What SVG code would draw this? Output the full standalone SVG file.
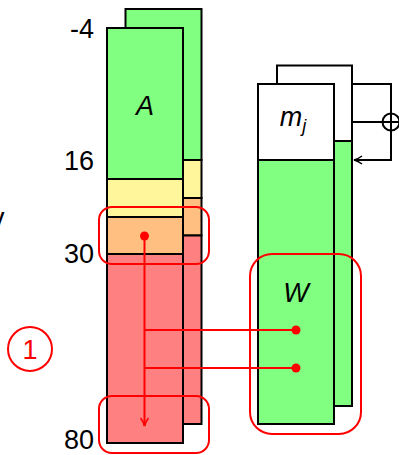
<svg xmlns="http://www.w3.org/2000/svg" width="399" height="455" viewBox="0 0 399 455">
<style>
.blk{stroke:#000;stroke-width:2}
.g{fill:#80FF80}.y{fill:#FFF59A}.o{fill:#FFBF80}.r{fill:#FF8080}.w{fill:#fff}
.num{font-family:"Liberation Sans",Arial,sans-serif;font-size:27px;fill:#000;text-anchor:end}
.it{font-family:"Liberation Sans",Arial,sans-serif;font-style:italic;font-size:27px;fill:#000;text-anchor:middle}
.red{fill:none;stroke:#FF0000;stroke-width:2}
.dot{fill:#FF0000}
</style>
<defs>
<marker id="ar" viewBox="0 0 10 10" refX="9" refY="5" markerWidth="10" markerHeight="10" markerUnits="userSpaceOnUse" orient="auto">
<path d="M1,1 Q5,4 9,5 Q5,6 1,9" fill="none" stroke="#FF0000" stroke-width="1.6"/>
</marker>
<marker id="ak" viewBox="0 0 10 10" refX="9" refY="5" markerWidth="10" markerHeight="10" markerUnits="userSpaceOnUse" orient="auto">
<path d="M1,1 Q5,4 9,5 Q5,6 1,9" fill="none" stroke="#000" stroke-width="1.4"/>
</marker>
</defs>

<g id="label-v"><text x="-9" y="227" class="num" style="text-anchor:start">v</text></g>

<g id="axis-labels">
<text x="94" y="38" class="num">-4</text>
<text x="94" y="170" class="num">16</text>
<text x="94" y="263" class="num">30</text>
<text x="94" y="449" class="num">80</text>
</g>

<g id="A-back">
<rect x="125.5" y="9" width="76" height="151" class="blk g"/>
<rect x="125.5" y="160" width="76" height="38" class="blk y"/>
<rect x="125.5" y="198" width="76" height="37.5" class="blk o"/>
<rect x="125.5" y="235.5" width="76" height="188.5" class="blk r"/>
</g>
<g id="A-front">
<rect x="107" y="28" width="76" height="151" class="blk g"/>
<rect x="107" y="179" width="76" height="38" class="blk y"/>
<rect x="107" y="217" width="76" height="37" class="blk o"/>
<rect x="107" y="254" width="76" height="189" class="blk r"/>
<text x="145" y="115" class="it">A</text>
</g>

<g id="W-back">
<rect x="277" y="65.5" width="75" height="75.5" class="blk w"/>
<rect x="277" y="141" width="75" height="265" class="blk g"/>
</g>
<g id="W-front">
<rect x="258" y="84" width="76" height="76" class="blk w"/>
<rect x="258" y="160" width="76" height="264" class="blk g"/>
<text x="293" y="126" class="it" font-size="26">m<tspan font-size="18" dy="6">j</tspan></text>
<text x="296" y="302" class="it">W</text>
</g>

<g id="oplus">
<circle cx="391" cy="122" r="8.5" fill="#fff" stroke="#000" stroke-width="2"/>
<path d="M382.5,122H399.5M391,113.5V130.5" stroke="#000" stroke-width="2"/>
</g>

<g id="circle-1">
<circle cx="30" cy="349" r="22" fill="none" stroke="#FF0000" stroke-width="2"/>
<text x="30" y="359" font-family="Liberation Sans,Arial,sans-serif" font-size="27" fill="#FF0000" text-anchor="middle">1</text>
</g>

<g id="highlights">
<rect x="99" y="207" width="110" height="57" rx="13" class="red"/>
<rect x="99" y="396" width="110" height="57" rx="13" class="red"/>
<rect x="250" y="254" width="111" height="180" rx="22" class="red"/>
</g>

<g id="connectors">
<path d="M352,84H391V113.5" fill="none" stroke="#000" stroke-width="2"/>
<path d="M352,122H382.5" fill="none" stroke="#000" stroke-width="2"/>
<path d="M391,130.5V160H354" fill="none" stroke="#000" stroke-width="2" marker-end="url(#ak)"/>
<path d="M144.5,236V426" class="red" marker-end="url(#ar)"/>
<path d="M144.5,330H296" class="red"/>
<path d="M144.5,368H296" class="red"/>
<circle cx="144.5" cy="236" r="4.5" class="dot"/>
<circle cx="296" cy="330" r="4.5" class="dot"/>
<circle cx="296" cy="368" r="4.5" class="dot"/>
</g>
</svg>
